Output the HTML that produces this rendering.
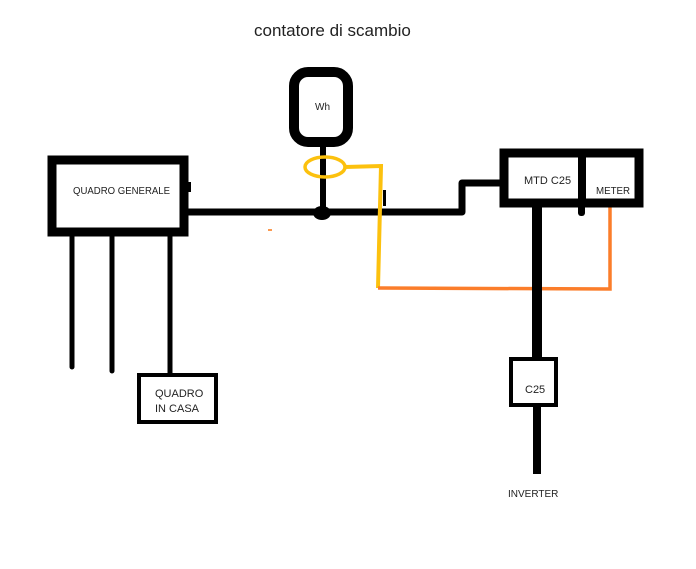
<!DOCTYPE html>
<html><head><style>
html,body{margin:0;padding:0;background:#fff;}
text{font-family:"Liberation Sans",sans-serif;fill:#222;}
</style></head><body>
<svg width="696" height="564" viewBox="0 0 696 564" xmlns="http://www.w3.org/2000/svg">
<rect width="696" height="564" fill="#fff"/>
<text x="254" y="36" font-size="17">contatore di scambio</text>
<rect x="52" y="160" width="132" height="72" fill="#fff" stroke="#000" stroke-width="9"/>
<text x="73" y="194" font-size="10" textLength="97" lengthAdjust="spacingAndGlyphs">QUADRO GENERALE</text>
<rect x="187" y="182" width="4" height="10" fill="#000"/>
<g stroke="#000" stroke-width="5" stroke-linecap="round">
<line x1="72" y1="236" x2="72" y2="367"/>
<line x1="112" y1="236" x2="112" y2="371"/>
<line x1="170" y1="236" x2="170" y2="373"/>
</g>
<rect x="139" y="375" width="77" height="47" fill="#fff" stroke="#000" stroke-width="4"/>
<text x="155" y="397" font-size="11">QUADRO</text>
<text x="155" y="412" font-size="11">IN CASA</text>
<polyline points="188,212 462,212 462,183 502,183" fill="none" stroke="#000" stroke-width="7" stroke-linejoin="round"/>
<ellipse cx="322" cy="213" rx="9" ry="7" fill="#000"/>
<line x1="323" y1="146" x2="323" y2="212" stroke="#000" stroke-width="6"/>
<rect x="383" y="190" width="3" height="16" fill="#000"/>
<rect x="294" y="72" width="54" height="70" rx="14" fill="#fff" stroke="#000" stroke-width="10"/>
<text x="315" y="110" font-size="10">Wh</text>
<ellipse cx="325" cy="167" rx="20" ry="10" fill="none" stroke="#fcc10e" stroke-width="3.5"/>
<polyline points="345,167 381,166 378,288" fill="none" stroke="#fcc10e" stroke-width="4"/>
<polyline points="378,288 610,289 610,202" fill="none" stroke="#fb7d2a" stroke-width="3.5"/>
<rect x="268" y="229" width="4" height="2" fill="#fb9a50"/>
<rect x="504" y="153" width="135" height="50" fill="#fff" stroke="#000" stroke-width="9"/>
<rect x="578" y="153" width="8" height="50" fill="#000"/>
<rect x="578" y="200" width="7" height="16" rx="3" fill="#000"/>
<text x="524" y="184" font-size="11">MTD C25</text>
<text x="596" y="194" font-size="10" textLength="34" lengthAdjust="spacingAndGlyphs">METER</text>
<line x1="537" y1="206" x2="537" y2="360" stroke="#000" stroke-width="10"/>
<line x1="537" y1="405" x2="537" y2="474" stroke="#000" stroke-width="8"/>
<rect x="511" y="359" width="45" height="46" fill="#fff" stroke="#000" stroke-width="4"/>
<text x="525" y="393" font-size="11">C25</text>
<text x="508" y="497" font-size="10">INVERTER</text>
</svg>
</body></html>
